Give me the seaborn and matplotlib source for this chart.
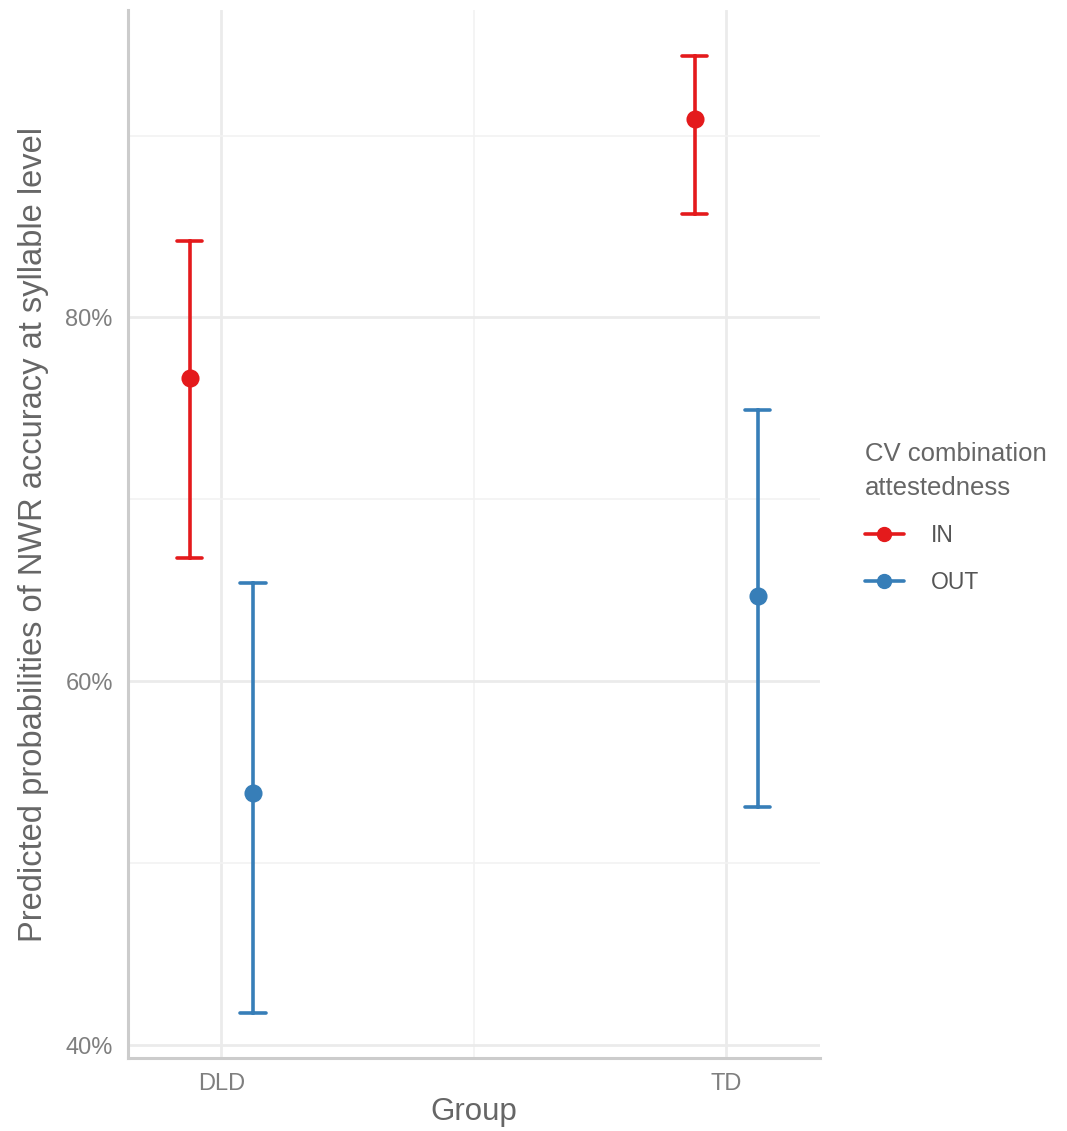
import pandas as pd
import matplotlib.pyplot as plt
from matplotlib.lines import Line2D
import seaborn as sns

# Predicted probabilities (%)
groups = ["DLD", "DLD", "TD", "TD"]
attest = ["IN", "OUT", "IN", "OUT"]
pred = [76.65, 53.85, 90.9, 64.7]
lower = [66.8, 41.8, 85.7, 53.1]
upper = [84.2, 65.4, 94.35, 74.9]
colors = {"IN": "#E41A1C", "OUT": "#377EB8"}

# long form: lower / point / upper per cell, median gives the point,
# full percentile interval gives the error bar
rows = []
for g, a, p, lo, hi in zip(groups, attest, pred, lower, upper):
    for v in (lo, p, hi):
        rows.append({"Group": g, "CV": a, "value": v})
df = pd.DataFrame(rows)

sns.set_theme(style="whitegrid")
plt.rcParams["font.family"] = ["Liberation Sans", "DejaVu Sans"]

fig = plt.figure(figsize=(10.67, 11.31), dpi=100)
ax = fig.add_axes([0.12, 0.0645, 0.6485, 0.9267])

sns.pointplot(
    data=df, x="Group", y="value", hue="CV",
    estimator="median", errorbar=("pi", 100),
    palette=colors,
    dodge=0.125, linestyle="none", capsize=0.05,
    err_kws={"linewidth": 2.6}, markersize=11,
    ax=ax,
)

ax.set_xlim(-0.185, 1.186)
ax.set_ylim(39.3, 96.9)
ax.set_yticks([40, 60, 80])
ax.set_yticklabels(["40%", "60%", "80%"])
ax.set_yticks([50, 70, 90], minor=True)
ax.set_xticks([0.5], minor=True)

ax.set_facecolor("white")
ax.grid(True, which="major", color="#ebebeb", linewidth=2)
ax.grid(True, which="minor", color="#f2f2f2", linewidth=1.2)
ax.set_axisbelow(True)
for side in ["top", "right"]:
    ax.spines[side].set_visible(False)
for side in ["left", "bottom"]:
    ax.spines[side].set_color("#cccccc")
    ax.spines[side].set_linewidth(2.2)

ax.tick_params(axis="y", which="major", labelsize=17, labelcolor="#7f7f7f",
               length=0, pad=11)
ax.tick_params(axis="x", which="major", labelsize=17, labelcolor="#7f7f7f",
               length=0, pad=11)
ax.tick_params(which="minor", length=0)
ax.set_xlabel("Group", fontsize=22.5, color="#666666", labelpad=1)
ax.set_ylabel("Predicted probabilities of NWR accuracy at syllable level",
              fontsize=23.5, color="#666666", labelpad=12)

handles = [Line2D([], [], color=colors[k], marker="o", markersize=10,
                  linewidth=2.6) for k in ["IN", "OUT"]]
leg = ax.legend(handles, ["IN", "OUT"], title="CV combination\nattestedness",
                loc="center left", bbox_to_anchor=(1.035, 0.515), frameon=False,
                fontsize=16.5, title_fontsize=18.5, handlelength=1.7,
                labelspacing=1.05, handletextpad=1.2)
leg._legend_box.align = "left"
plt.setp(leg.get_title(), color="#666666", linespacing=1.5)
for t in leg.get_texts():
    t.set_color("#555555")

plt.savefig("out.png", dpi=100)
